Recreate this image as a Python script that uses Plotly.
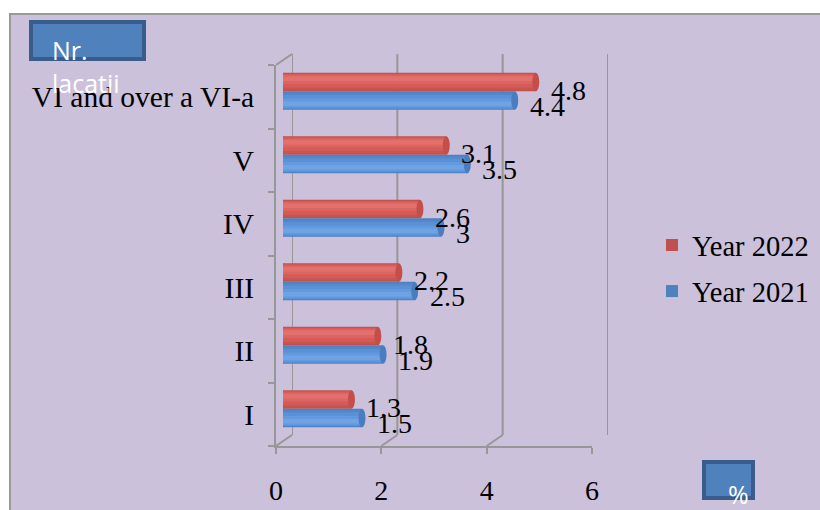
import plotly.graph_objects as go

# ---------------- data ----------------
categories = ["I", "II", "III", "IV", "V", "VI and over a VI-a"]
year_2022 = [1.3, 1.8, 2.2, 2.6, 3.1, 4.8]
year_2021 = [1.5, 1.9, 2.5, 3.0, 3.5, 4.4]
x_ticks = [0, 2, 4, 6]
series_names = ["Year 2022", "Year 2021"]

W, H = 820, 510
SERIF = "Liberation Serif"
SANS = "Open Sans"
LAV = "#CCC1DA"
GRID = "#979797"


def fx(p):
    return p / W


def fy(p):
    return 1 - p / H


# front plane geometry (pixels), depth offset
FX0, FX1, FY0, FY1 = 276, 592, 65, 446
DEPTH_X, DEPTH_Y = 16, 11
MID_X, MID_Y = 7, 5.5
BAND = (FY1 - FY0) / len(categories)
T = 0.29  # bar thickness in category units
TPX = T * BAND

fig = go.Figure()

# invisible trace so the back-wall subplot is drawn
fig.add_trace(go.Scatter(x=[0], y=[0], xaxis="x", yaxis="y", mode="markers",
                         marker=dict(opacity=0), showlegend=False, hoverinfo="skip"))

# series styling: (values, offset sign, gradient layers, cap colour)
series = [
    (year_2022, +1,
     [(0.0, 1.0, "#C0504D"), (0.08, 0.97, "#CB544F"), (0.2, 0.93, "#D55B57"),
      (0.4, 0.88, "#DC6562"), (0.55, 0.8, "#E2716E")], "#C44E4A"),
    (year_2021, -1,
     [(0.0, 1.0, "#4F81BD"), (0.08, 0.97, "#5288CB"), (0.2, 0.93, "#5A90D6"),
      (0.4, 0.88, "#639ADE"), (0.55, 0.8, "#6EA4E6")], "#4A7DC0"),
]

for name, (vals, sgn, layers, c_cap) in zip(series_names, series):
    for k, (a, b, col) in enumerate(layers):
        if sgn > 0:
            off, wid = a * T, (b - a) * T
        else:
            off, wid = -b * T, (b - a) * T
        fig.add_trace(go.Bar(
            x=vals, y=categories, orientation="h",
            xaxis="x2", yaxis="y2",
            offset=off, width=wid,
            marker=dict(color=col, line=dict(width=0)),
            name=name, legendgroup=name, showlegend=(k == 0),
            hoverinfo="skip",
        ))

# dummy trace for front category axis labels
fig.add_trace(go.Scatter(
    x=[0] * len(categories), y=categories, xaxis="x3", yaxis="y3",
    mode="markers", marker=dict(opacity=0), showlegend=False, hoverinfo="skip",
))

shapes = []
# outer frame
shapes.append(dict(type="rect", xref="paper", yref="paper",
                   x0=fx(10), x1=fx(W + 20), y0=fy(14), y1=fy(H + 20),
                   fillcolor=LAV, line=dict(color="#9A9A9A", width=2), layer="below"))

# back wall gridlines
for v in x_ticks:
    shapes.append(dict(type="line", xref="x", x0=v, x1=v,
                       yref="y domain", y0=0, y1=1,
                       line=dict(color=GRID, width=2), layer="below"))

# floor diagonals at each x tick, from front to back
for v in x_ticks:
    shapes.append(dict(type="line", xref="x3", xsizemode="pixel", xanchor=v,
                       x0=0, x1=DEPTH_X, yref="y3 domain", ysizemode="pixel",
                       yanchor=0, y0=0, y1=DEPTH_Y,
                       line=dict(color=GRID, width=2)))
# top-left diagonal
shapes.append(dict(type="line", xref="x3", xsizemode="pixel", xanchor=0,
                   x0=0, x1=DEPTH_X, yref="y3 domain", ysizemode="pixel",
                   yanchor=1, y0=0, y1=DEPTH_Y,
                   line=dict(color=GRID, width=2)))

# bar end caps
for vals, sgn, layers, c_cap in series:
    for i, v in enumerate(vals):
        y0, y1 = (0, TPX) if sgn > 0 else (-TPX, 0)
        shapes.append(dict(type="circle", xref="x2", xsizemode="pixel", xanchor=v,
                           x0=-3.5, x1=3.5, yref="y2", ysizemode="pixel", yanchor=i,
                           y0=y0, y1=y1, fillcolor=c_cap, line=dict(width=0)))
        shapes.append(dict(type="circle", xref="x2", xsizemode="pixel", xanchor=0,
                           x0=-3.5, x1=3.5, yref="y2", ysizemode="pixel", yanchor=i,
                           y0=y0, y1=y1, fillcolor=layers[2][2], line=dict(width=0),
                           layer="below"))

# title boxes
shapes.append(dict(type="rect", xref="paper", yref="paper",
                   x0=fx(31), x1=fx(144), y0=fy(22), y1=fy(59),
                   fillcolor="#4F81BD", line=dict(color="#385D8A", width=4)))
shapes.append(dict(type="rect", xref="paper", yref="paper",
                   x0=fx(704), x1=fx(753), y0=fy(462), y1=fy(498),
                   fillcolor="#4F81BD", line=dict(color="#385D8A", width=4)))

annotations = []
# data labels
for vals, sgn, *_ in series:
    for i, v in enumerate(vals):
        annotations.append(dict(
            x=v, y=i, xref="x2", yref="y2", text=f"{v:g}", showarrow=False,
            xanchor="left", yanchor="middle", xshift=13,
            yshift=(1 if sgn > 0 else -15),
            font=dict(family=SERIF, size=28, color="black")))

annotations.append(dict(xref="paper", yref="paper", x=fx(50), y=fy(31),
                        xanchor="left", yanchor="top", align="left",
                        text="Nr.<br>lacatii", showarrow=False,
                        font=dict(family=SANS, size=25, color="white")))
annotations.append(dict(xref="paper", yref="paper", x=fx(738), y=fy(494),
                        xanchor="center", yanchor="middle",
                        text="%", showarrow=False,
                        font=dict(family=SANS, size=25, color="white")))

fig.update_layout(
    width=W, height=H, autosize=False,
    margin=dict(l=0, r=0, t=0, b=0, autoexpand=False),
    paper_bgcolor="white", plot_bgcolor="rgba(0,0,0,0)",
    barmode="overlay",
    showlegend=True,
    legend=dict(x=fx(652), y=fy(220), xanchor="left", yanchor="top",
                bgcolor="rgba(0,0,0,0)", traceorder="grouped",
                tracegroupgap=6,
                font=dict(family=SERIF, size=28.5, color="black")),
    # back wall
    xaxis=dict(domain=[fx(FX0 + DEPTH_X), fx(FX1 + DEPTH_X)], range=[0, 6],
               visible=False, anchor="y", fixedrange=True, automargin=False),
    yaxis=dict(domain=[fy(FY1 - DEPTH_Y), fy(FY0 - DEPTH_Y)], range=[0, 1],
               visible=False, anchor="x", fixedrange=True, automargin=False),
    # bars (mid depth)
    xaxis2=dict(domain=[fx(FX0 + MID_X), fx(FX1 + MID_X)], range=[0, 6],
                visible=False, anchor="y2", fixedrange=True, automargin=False),
    yaxis2=dict(domain=[fy(FY1 - MID_Y), fy(FY0 - MID_Y)], range=[-0.5, 5.5],
                type="category", categoryorder="array", categoryarray=categories,
                visible=False, anchor="x2", fixedrange=True, automargin=False),
    # front axes
    xaxis3=dict(domain=[fx(FX0), fx(FX1)], range=[0, 6], tickvals=x_ticks,
                showgrid=False, zeroline=False, showline=True,
                linecolor=GRID, linewidth=2, ticks="outside", ticklen=6,
                tickwidth=2, tickcolor=GRID, ticklabelstandoff=12,
                tickfont=dict(family=SERIF, size=28, color="black"),
                anchor="y3", fixedrange=True, automargin=False),
    yaxis3=dict(domain=[fy(FY1), fy(FY0)], range=[-0.5, 5.5],
                type="category", categoryorder="array", categoryarray=categories,
                showgrid=False, zeroline=False, showline=True,
                linecolor=GRID, linewidth=2, ticks="outside", ticklen=6,
                tickwidth=2, tickcolor=GRID, tickson="boundaries",
                ticklabelstandoff=14,
                tickfont=dict(family=SERIF, size=29.5, color="black"),
                anchor="x3", fixedrange=True, automargin=False),
    shapes=shapes,
    annotations=annotations,
)

fig.write_html("out.html")
